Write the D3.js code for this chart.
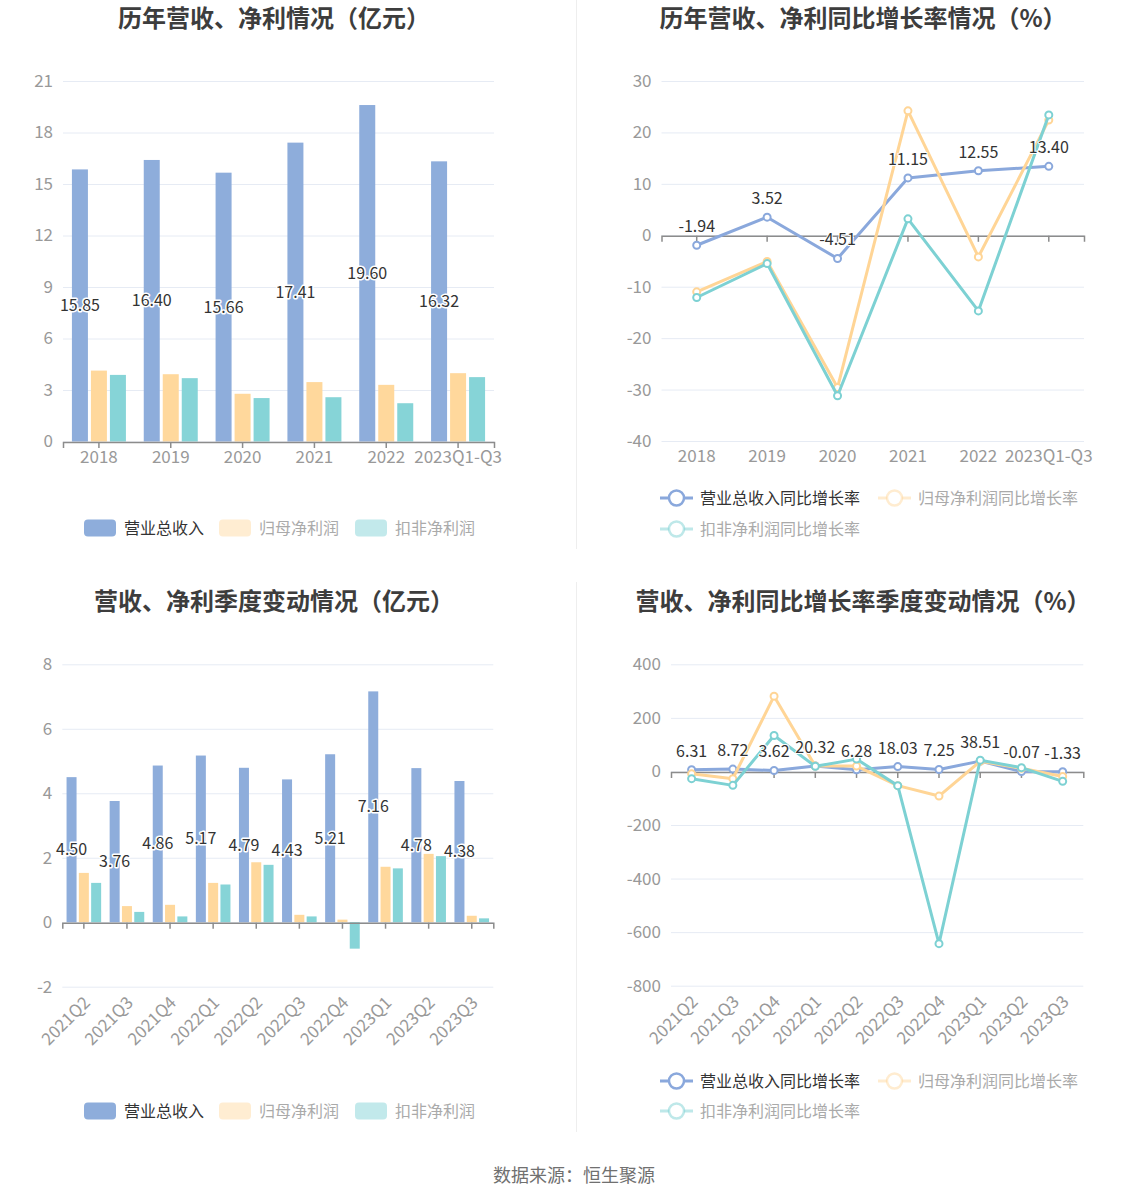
<!DOCTYPE html>
<html>
<head>
<meta charset="utf-8">
<script src="https://cdn.jsdelivr.net/npm/d3@7"></script>
<style>
  html, body { margin: 0; padding: 0; background: #fff; }
  svg { display: block; font-family: "Noto Sans CJK SC", "Noto Sans", sans-serif; }
</style>
</head>
<body>
<svg id="chart" width="1148" height="1202"></svg>
<script>
// ---------------- DATA ----------------
const years = ['2018', '2019', '2020', '2021', '2022', '2023Q1-Q3'];
const annualRevenue = [15.85, 16.40, 15.66, 17.41, 19.60, 16.32];
const annualNetProfit = [4.13, 3.92, 2.78, 3.46, 3.30, 3.98];
const annualDeductedProfit = [3.88, 3.69, 2.53, 2.58, 2.23, 3.75];

const annualRevenueGrowth = [-1.94, 3.52, -4.51, 11.15, 12.55, 13.40];
const annualNetProfitGrowth = [-11.0, -5.1, -29.6, 24.2, -4.2, 22.4];
const annualDeductedGrowth = [-12.1, -5.5, -31.2, 3.2, -14.7, 23.4];

const quarters = ['2021Q2', '2021Q3', '2021Q4', '2022Q1', '2022Q2', '2022Q3', '2022Q4', '2023Q1', '2023Q2', '2023Q3'];
const qRevenue = [4.50, 3.76, 4.86, 5.17, 4.79, 4.43, 5.21, 7.16, 4.78, 4.38];
const qNetProfit = [1.53, 0.50, 0.54, 1.22, 1.86, 0.23, 0.08, 1.72, 2.12, 0.20];
const qDeductedProfit = [1.22, 0.32, 0.18, 1.17, 1.78, 0.18, -0.82, 1.67, 2.05, 0.12];

const qRevenueGrowth = [6.31, 8.72, 3.62, 20.32, 6.28, 18.03, 7.25, 38.51, -0.07, -1.33];
const qNetProfitGrowth = [-9, -27, 281, 20, 20, -53, -92, 38, 12, -19];
const qDeductedGrowth = [-27, -52, 134, 19, 46, -53, -643, 42, 14, -37];

const barSeriesNames = ['营业总收入', '归母净利润', '扣非净利润'];
const lineSeriesNames = ['营业总收入同比增长率', '归母净利润同比增长率', '扣非净利润同比增长率'];

const ticksAnnualBar = [0, 3, 6, 9, 12, 15, 18, 21];
const ticksAnnualLine = [-40, -30, -20, -10, 0, 10, 20, 30];
const ticksQuarterBar = [-2, 0, 2, 4, 6, 8];
const ticksQuarterLine = [-800, -600, -400, -200, 0, 200, 400];

const titles = ['历年营收、净利情况（亿元）', '历年营收、净利同比增长率情况（%）',
                '营收、净利季度变动情况（亿元）', '营收、净利同比增长率季度变动情况（%）'];
const sourceText = '数据来源：恒生聚源';

// ---------------- STYLE ----------------
const barColors = ['#8eaddb', '#ffd89c', '#86d4d7'];
const lineColors = ['#8aa8dc', '#ffd596', '#7dd1d3'];
const legendFaded = [1, 0.45, 0.5];
const axisLabelColor = '#999';
const gridColor = '#e6ebf4';
const zeroColor = '#8c8c8c';
const FONT = '"Noto Sans CJK SC", "Noto Sans", sans-serif';

const svg = d3.select('#chart');

// dividers
svg.append('line').attr('x1', 576.5).attr('x2', 576.5).attr('y1', 0).attr('y2', 549).attr('stroke', '#eeeeee');
svg.append('line').attr('x1', 576.5).attr('x2', 576.5).attr('y1', 582).attr('y2', 1132).attr('stroke', '#eeeeee');

// titles
const titlePos = [[274, 27], [863, 27], [274, 610], [863, 610]];
titles.forEach((t, i) => {
  svg.append('text').attr('x', titlePos[i][0]).attr('y', titlePos[i][1])
    .attr('text-anchor', 'middle').attr('font-size', 24).attr('font-weight', 'bold')
    .attr('fill', '#3d3d3d').text(t);
});

svg.append('text').attr('x', 574).attr('y', 1182).attr('text-anchor', 'middle')
  .attr('font-size', 18).attr('fill', '#707070').text(sourceText);

function yAxisAndGrid(g, y, ticks, x0, x1) {
  g.append('g').selectAll('line').data(ticks).join('line')
    .attr('x1', x0).attr('x2', x1).attr('y1', d => y(d) + 0.5).attr('y2', d => y(d) + 0.5)
    .attr('stroke', gridColor).attr('stroke-width', 1);
  const ax = g.append('g').attr('transform', `translate(${x0},0)`)
    .call(d3.axisLeft(y).tickValues(ticks).tickSize(0).tickPadding(10).tickFormat(d => String(d)));
  ax.select('.domain').remove();
  ax.selectAll('text').attr('fill', axisLabelColor).attr('font-size', 17).attr('font-family', FONT);
}

function xAxes(g, x, y, yBottom, rotate) {
  const zero = g.append('g').attr('transform', `translate(0,${y(0) + 0.5})`)
    .call(d3.axisBottom(x).tickSize(6).tickFormat(''));
  zero.select('.domain').attr('stroke', zeroColor).attr('stroke-width', 1.5);
  zero.selectAll('.tick line').attr('stroke', zeroColor).attr('stroke-width', 1.5);
  const lab = g.append('g').attr('transform', `translate(0,${yBottom})`)
    .call(d3.axisBottom(x).tickSize(0).tickPadding(rotate ? 0 : 9));
  lab.select('.domain').remove();
  lab.selectAll('text').attr('fill', axisLabelColor).attr('font-size', 17).attr('font-family', FONT);
  if (rotate) {
    lab.selectAll('text').attr('y', 0).attr('dy', '0.35em')
      .attr('text-anchor', 'end').attr('transform', 'translate(3,13) rotate(-45)');
  }
}

function barPanel(cfg) {
  const g = svg.append('g');
  const x = d3.scaleBand().domain(cfg.cats).range([cfg.x0, cfg.x1]).padding(0);
  const y = d3.scaleLinear().domain(cfg.yDomain).range([cfg.yBottom, cfg.yTop]);
  yAxisAndGrid(g, y, cfg.ticks, cfg.x0, cfg.x1);
  const groupW = 3 * cfg.barW + 2 * cfg.gap;
  const inner = d3.scaleBand().domain([0, 1, 2]).range([0, groupW]).paddingInner(cfg.gap / (cfg.barW + cfg.gap)).paddingOuter(0);
  const groups = g.append('g');
  cfg.series.forEach((vals, si) => {
    groups.append('g').selectAll('rect').data(vals).join('rect')
      .attr('x', (d, i) => x(cfg.cats[i]) + x.bandwidth() / 2 - groupW / 2 + inner(si))
      .attr('width', inner.bandwidth())
      .attr('y', d => Math.min(y(d), y(0)))
      .attr('height', d => Math.abs(y(d) - y(0)))
      .attr('fill', barColors[si]);
  });
  xAxes(g, x, y, cfg.yBottom, cfg.rotate);
  g.append('g').selectAll('text').data(cfg.series[0]).join('text')
    .attr('x', (d, i) => x(cfg.cats[i]) + x.bandwidth() / 2 - groupW / 2 + inner(0) + inner.bandwidth() / 2)
    .attr('y', d => y(d / 2))
    .attr('dy', '0.35em')
    .attr('text-anchor', 'middle').attr('font-size', 16).attr('fill', '#333')
    .attr('stroke', '#fff').attr('stroke-width', 3).attr('paint-order', 'stroke')
    .attr('stroke-linejoin', 'round')
    .text(d => d.toFixed(2));
  barLegend(cfg.legendY);
}

function barLegend(cy) {
  const lg = svg.append('g');
  let xPos = 84;
  const textW = [80, 81, 81];
  barSeriesNames.forEach((n, i) => {
    lg.append('rect').attr('x', xPos).attr('y', cy - 8.5).attr('width', 32).attr('height', 17)
      .attr('rx', 4).attr('fill', barColors[i]).attr('fill-opacity', legendFaded[i]);
    lg.append('text').attr('x', xPos + 40).attr('y', cy).attr('dy', '0.35em')
      .attr('font-size', 16).attr('fill', i === 0 ? '#333' : '#aaa').text(n);
    xPos += 40 + textW[i] + 15;
  });
}

function lineLegend(cy1, cy2) {
  const lg = svg.append('g');
  const pos = [[660, cy1], [878, cy1], [660, cy2]];
  lineSeriesNames.forEach((n, i) => {
    const [lx, ly] = pos[i];
    const op = legendFaded[i];
    lg.append('line').attr('x1', lx).attr('x2', lx + 33).attr('y1', ly).attr('y2', ly)
      .attr('stroke', lineColors[i]).attr('stroke-width', 3).attr('stroke-opacity', op);
    lg.append('circle').attr('cx', lx + 16.5).attr('cy', ly).attr('r', 7.5)
      .attr('fill', '#fff').attr('stroke', lineColors[i]).attr('stroke-width', 2.5).attr('stroke-opacity', op);
    lg.append('text').attr('x', lx + 40).attr('y', ly).attr('dy', '0.35em')
      .attr('font-size', 16).attr('fill', i === 0 ? '#333' : '#aaa').text(n);
  });
}

function linePanel(cfg) {
  const g = svg.append('g');
  const x = d3.scaleBand().domain(cfg.cats).range([cfg.x0, cfg.x1]).padding(0);
  const y = d3.scaleLinear().domain(cfg.yDomain).range([cfg.yBottom, cfg.yTop]);
  yAxisAndGrid(g, y, cfg.ticks, cfg.x0, cfg.x1);
  xAxes(g, x, y, cfg.yBottom, cfg.rotate);
  const cx = (d, i) => x(cfg.cats[i]) + x.bandwidth() / 2;
  const line = d3.line().x(cx).y(d => y(d));
  cfg.series.forEach((vals, si) => {
    g.append('path').datum(vals).attr('d', line).attr('fill', 'none')
      .attr('stroke', lineColors[si]).attr('stroke-width', 3).attr('stroke-linejoin', 'round');
    g.append('g').selectAll('circle').data(vals).join('circle')
      .attr('cx', cx).attr('cy', d => y(d)).attr('r', 3.5)
      .attr('fill', '#fff').attr('stroke', lineColors[si]).attr('stroke-width', 2);
  });
  g.append('g').selectAll('text').data(cfg.series[0]).join('text')
    .attr('x', cx).attr('y', d => y(d) - 13)
    .attr('text-anchor', 'middle').attr('font-size', 16).attr('fill', '#333')
    .attr('stroke', '#fff').attr('stroke-width', 2).attr('paint-order', 'stroke')
    .text(d => d.toFixed(2));
  lineLegend(cfg.legendY1, cfg.legendY2);
}

barPanel({
  cats: years, series: [annualRevenue, annualNetProfit, annualDeductedProfit],
  x0: 63, x1: 494, yTop: 81, yBottom: 441.5, yDomain: [0, 21], ticks: ticksAnnualBar,
  barW: 16, gap: 3, rotate: false, legendY: 528
});

linePanel({
  cats: years, series: [annualRevenueGrowth, annualNetProfitGrowth, annualDeductedGrowth],
  x0: 661.5, x1: 1084, yTop: 81, yBottom: 441, yDomain: [-40, 30], ticks: ticksAnnualLine,
  rotate: false, legendY1: 498, legendY2: 529
});

barPanel({
  cats: quarters, series: [qRevenue, qNetProfit, qDeductedProfit],
  x0: 62.3, x1: 493.3, yTop: 664.3, yBottom: 986.7, yDomain: [-2, 8], ticks: ticksQuarterBar,
  barW: 10, gap: 2.3, rotate: true, legendY: 1111
});

linePanel({
  cats: quarters, series: [qRevenueGrowth, qNetProfitGrowth, qDeductedGrowth],
  x0: 671, x1: 1083.3, yTop: 664.3, yBottom: 985.7, yDomain: [-800, 400], ticks: ticksQuarterLine,
  rotate: true, legendY1: 1081, legendY2: 1111
});
</script>
</body>
</html>
